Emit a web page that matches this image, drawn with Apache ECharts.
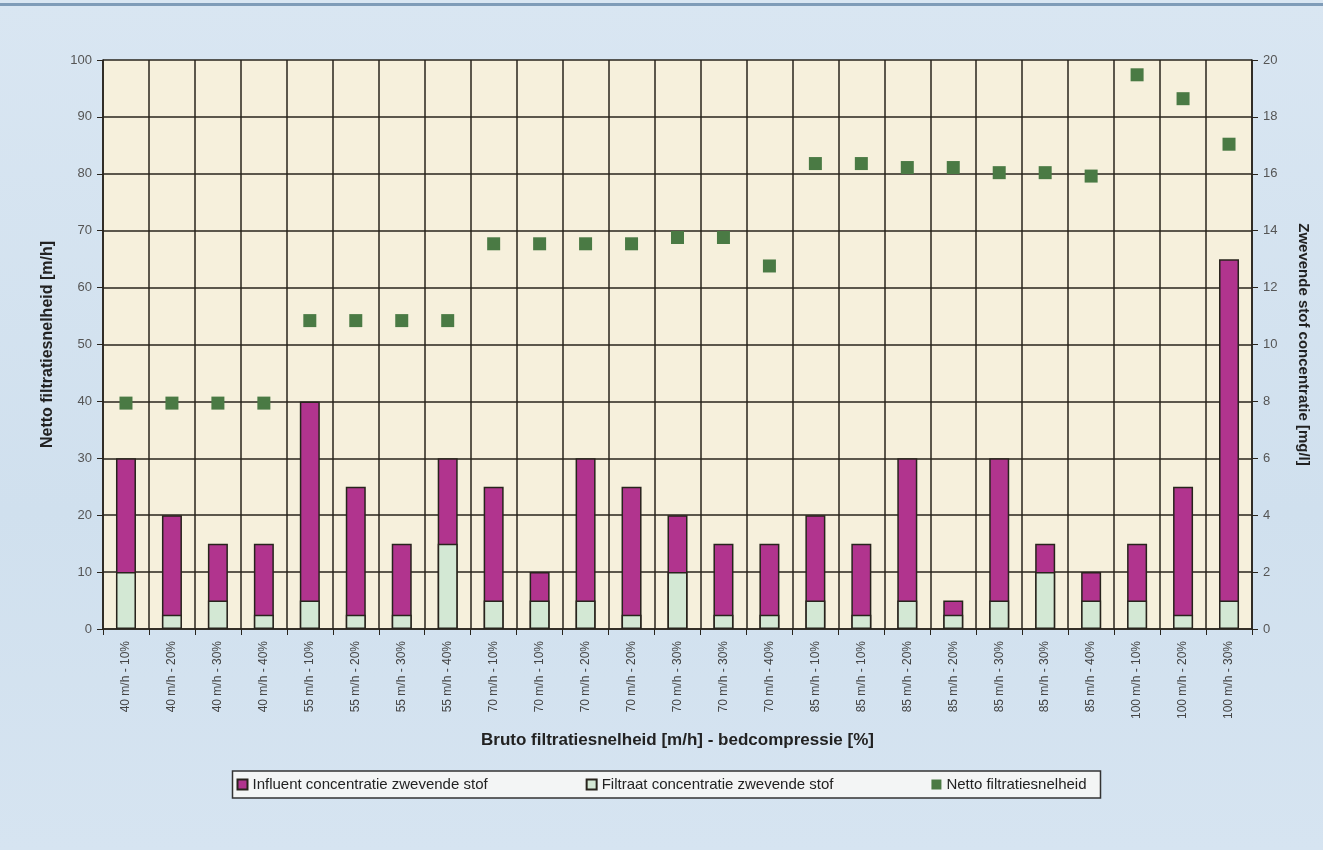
<!DOCTYPE html>
<html>
<head>
<meta charset="utf-8">
<script src="https://cdn.jsdelivr.net/npm/echarts@6/dist/echarts.min.js"></script>
<style>
  html, body { margin: 0; padding: 0; }
  body {
    width: 1323px; height: 850px; overflow: hidden;
    background: linear-gradient(180deg, #d9e6f2 0%, #d0e0ee 60%, #d6e4f1 100%);
  }
  .topline { position: absolute; left: 0; top: 3px; width: 1323px; height: 3px; background: #7f9cb8; }
  #chart { position: absolute; left: 0; top: 0; width: 1323px; height: 850px; }
</style>
</head>
<body>
<div class="topline"></div>
<div id="chart"></div>
<script>
// categories: bruto filtratiesnelheid - bedcompressie
const categories = [
  '40 m/h - 10%', '40 m/h - 20%', '40 m/h - 30%', '40 m/h - 40%',
  '55 m/h - 10%', '55 m/h - 20%', '55 m/h - 30%', '55 m/h - 40%',
  '70 m/h - 10%', '70 m/h - 10%', '70 m/h - 20%', '70 m/h - 20%',
  '70 m/h - 30%', '70 m/h - 30%', '70 m/h - 40%',
  '85 m/h - 10%', '85 m/h - 10%', '85 m/h - 20%', '85 m/h - 20%',
  '85 m/h - 30%', '85 m/h - 30%', '85 m/h - 40%',
  '100 m/h - 10%', '100 m/h - 20%', '100 m/h - 30%'
]
// mg/l (rechter as)
const influent = [6, 4, 3, 3, 8, 5, 3, 6, 5, 2, 6, 5, 4, 3, 3, 4, 3, 6, 1, 6, 3, 2, 3, 5, 13]
const filtraat = [2, 0.5, 1, 0.5, 1, 0.5, 0.5, 3, 1, 1, 1, 0.5, 2, 0.5, 0.5, 1, 0.5, 1, 0.5, 1, 2, 1, 1, 0.5, 1]
// m/h (linker as)
const netto = [39.7, 39.7, 39.7, 39.7, 54.2, 54.2, 54.2, 54.2, 67.7, 67.7, 67.7, 67.7, 68.8, 68.8, 63.8,
  81.8, 81.8, 81.1, 81.1, 80.2, 80.2, 79.6, 97.4, 93.2, 85.2]
const leftTicks = { min: 0, max: 100, interval: 10 }
const rightTicks = { min: 0, max: 20, interval: 2 }

const font = 'Arial, "Liberation Sans", sans-serif'
const lineColor = '#28241d'

const myChart = echarts.init(document.getElementById('chart'))
const option = {
  textStyle: { fontFamily: font },
  grid: {
    left: 103, right: 71, top: 60, bottom: 221,
    show: true, backgroundColor: '#f6f0dc', borderWidth: 0
  },
  legend: {
    top: 771,
    left: 'center',
    itemWidth: 10, itemHeight: 10, itemGap: 98,
    padding: [6, 14, 6, 4],
    backgroundColor: '#f3f5f5',
    borderColor: '#333', borderWidth: 1.5,
    textStyle: { fontSize: 15, color: '#222', fontFamily: font },
    data: [
      { name: 'Influent concentratie zwevende stof', icon: 'rect' },
      { name: 'Filtraat concentratie zwevende stof', icon: 'rect' },
      { name: 'Netto filtratiesnelheid', icon: 'rect' }
    ]
  },
  xAxis: {
    type: 'category',
    data: categories,
    boundaryGap: true,
    name: 'Bruto filtratiesnelheid [m/h] - bedcompressie [%]',
    nameLocation: 'middle',
    nameGap: 103,
    nameTextStyle: { fontSize: 17, fontWeight: 'bold', color: '#222' },
    axisLine: { lineStyle: { color: lineColor, width: 1.6 } },
    axisTick: { show: true, interval: 0, length: 6, lineStyle: { color: lineColor } },
    axisLabel: { interval: 0, rotate: 90, fontSize: 12, color: '#444', margin: 12 },
    splitLine: { show: true, interval: 0, lineStyle: { color: lineColor, width: 1.5 } }
  },
  yAxis: [
    {
      type: 'value',
      position: 'left',
      min: leftTicks.min, max: leftTicks.max, interval: leftTicks.interval,
      name: 'Netto filtratiesnelheid [m/h]',
      nameLocation: 'middle',
      nameGap: 47,
      nameTextStyle: { fontSize: 16, fontWeight: 'bold', color: '#222' },
      axisLine: { show: true, lineStyle: { color: lineColor, width: 1.6 } },
      axisTick: { show: true, length: 6, lineStyle: { color: lineColor } },
      axisLabel: { fontSize: 13, color: '#555', margin: 11 },
      splitLine: { show: true, lineStyle: { color: lineColor, width: 1.5 } }
    },
    {
      type: 'value',
      position: 'right',
      min: rightTicks.min, max: rightTicks.max, interval: rightTicks.interval,
      name: 'Zwevende stof concentratie [mg/l]',
      nameLocation: 'middle',
      nameGap: 44,
      nameRotate: -90,
      nameTextStyle: { fontSize: 15, fontWeight: 'bold', color: '#222' },
      axisLine: { show: true, lineStyle: { color: lineColor, width: 1.6 } },
      axisTick: { show: true, length: 6, lineStyle: { color: lineColor } },
      axisLabel: { fontSize: 13, color: '#555', margin: 11 },
      splitLine: { show: false }
    }
  ],
  series: [
    {
      name: 'Influent concentratie zwevende stof',
      type: 'bar',
      yAxisIndex: 1,
      barWidth: 20,
      barGap: '-100%',
      itemStyle: { color: '#b1348e', borderColor: lineColor, borderWidth: 1.5 },
      data: influent,
      z: 2
    },
    {
      name: 'Filtraat concentratie zwevende stof',
      type: 'bar',
      yAxisIndex: 1,
      barWidth: 20,
      itemStyle: { color: '#d3e8d4', borderColor: lineColor, borderWidth: 1.5 },
      data: filtraat,
      z: 3
    },
    {
      name: 'Netto filtratiesnelheid',
      type: 'scatter',
      yAxisIndex: 0,
      symbol: 'rect',
      symbolSize: 13,
      itemStyle: { color: '#4a7a44', opacity: 1 },
      data: netto,
      z: 4
    }
  ]
}
myChart.setOption(option)
</script>
</body>
</html>
